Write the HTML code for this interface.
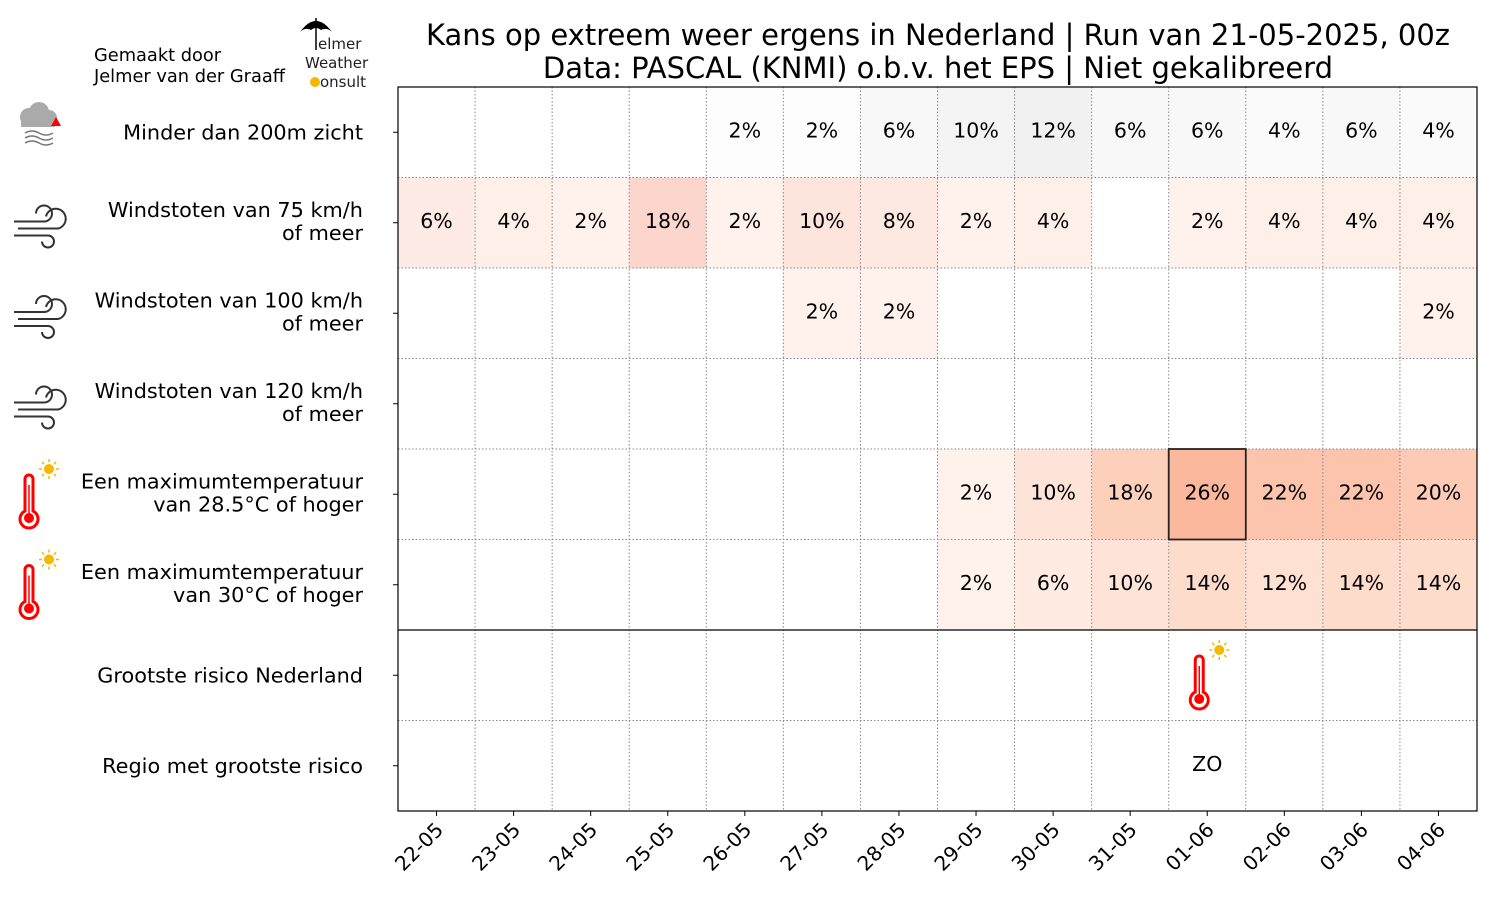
<!DOCTYPE html>
<html><head><meta charset="utf-8">
<style>
body{margin:0;background:#fff;font-family:"DejaVu Sans","Liberation Sans",sans-serif;}
svg text{font-family:"DejaVu Sans","Liberation Sans",sans-serif;}
</style></head>
<body>
<svg id="chart" width="1500" height="900" viewBox="0 0 1500 900" xmlns="http://www.w3.org/2000/svg">
<text x="938" y="45" font-size="29" text-anchor="middle">Kans op extreem weer ergens in Nederland | Run van 21-05-2025, 00z</text>
<text x="938" y="78" font-size="29" text-anchor="middle">Data: PASCAL (KNMI) o.b.v. het EPS | Niet gekalibreerd</text>
<text font-size="17.8"><tspan x="94" y="61">Gemaakt door</tspan><tspan x="94" y="82">Jelmer van der Graaff</tspan></text>
<g>
<path d="M300,32 Q316,10 332,32 Q327,27 321,30 Q316,26 311,30 Q305,27 300,32Z" fill="#000"/>
<line x1="316" y1="18" x2="316" y2="50" stroke="#000" stroke-width="1.5"/>
<text x="318" y="49" font-size="15" fill="#222">elmer</text>
<text x="305" y="68" font-size="15" fill="#222">Weather</text>
<circle cx="315" cy="82" r="5" fill="#f5b800"/>
<text x="320" y="87" font-size="15" fill="#222">onsult</text>
</g>
<g id="cells"></g>
<g id="grid"></g>
<g id="labels"></g>
</svg>
<script>
const dates=["22-05","23-05","24-05","25-05","26-05","27-05","28-05","29-05","30-05","31-05","01-06","02-06","03-06","04-06"];
const rowLabels=[["Minder dan 200m zicht"],["Windstoten van 75 km/h","of meer"],["Windstoten van 100 km/h","of meer"],["Windstoten van 120 km/h","of meer"],["Een maximumtemperatuur","van 28.5°C of hoger"],["Een maximumtemperatuur","van 30°C of hoger"],["Grootste risico Nederland"],["Regio met grootste risico"]];
const fog=[0,0,0,0,2,2,6,10,12,6,6,4,6,4];
const wind75=[6,4,2,18,2,10,8,2,4,0,2,4,4,4];
const wind100=[0,0,0,0,0,2,2,0,0,0,0,0,0,2];
const wind120=[0,0,0,0,0,0,0,0,0,0,0,0,0,0];
const temp285=[0,0,0,0,0,0,0,2,10,18,26,22,22,20];
const temp30=[0,0,0,0,0,0,0,2,6,10,14,12,14,14];
const riskIndex=10;
const riskRegion="ZO";
const series=[fog,wind75,wind100,wind120,temp285,temp30];
const X0=398,X1=1477,Y0=87,Y1=811,NR=8;
const cw=(X1-X0)/dates.length, rh=(Y1-Y0)/NR;
const xs=i=>X0+i*cw, ys=r=>Y0+r*rh;
const NS="http://www.w3.org/2000/svg";
function mk(t,a,p){const e=document.createElementNS(NS,t);for(const k in a)e.setAttribute(k,a[k]);p.appendChild(e);return e;}
function lerp(stops,v){v=Math.max(0,Math.min(1,v));const n=stops.length-1;const f=v*n;const i=Math.min(Math.floor(f),n-1);const t=f-i;const a=stops[i],b=stops[i+1];return `rgb(${a.map((c,k)=>Math.round(c+(b[k]-c)*t)).join(",")})`;}
const reds=[[255,245,240],[254,224,210],[252,187,161],[252,146,114],[251,106,74],[239,59,44],[203,24,29],[165,15,21],[103,0,13]];
const greys=[[255,255,255],[240,240,240],[217,217,217],[189,189,189],[150,150,150],[115,115,115],[82,82,82],[37,37,37],[0,0,0]];
const windReds=[[255,245,240],[253,225,218],[251,200,188],[248,160,140],[240,110,90],[220,60,50],[190,25,30],[150,10,20],[100,0,13]];
const cells=document.getElementById('cells'),grid=document.getElementById('grid'),labels=document.getElementById('labels');
series.forEach((arr,r)=>{arr.forEach((v,i)=>{
 if(v>0){const cm=r==0?greys:(r<=3?windReds:reds);
 const c=mk('rect',{x:xs(i),y:ys(r),width:cw,height:rh,fill:lerp(cm,v/100)},cells);
 
 
 const t=mk('text',{x:xs(i)+cw/2,y:ys(r)+rh/2+5,'font-size':20.5,'text-anchor':'middle'},cells);t.textContent=v+'%';
 
 }
});});
for(let i=1;i<dates.length;i++)mk('line',{x1:xs(i),y1:Y0,x2:xs(i),y2:Y1,stroke:'#888','stroke-width':1,'stroke-dasharray':'1.5,2'},grid);
for(let r=1;r<NR;r++)mk('line',{x1:X0,y1:ys(r),x2:X1,y2:ys(r),stroke:r==6?'#000':'#888','stroke-width':r==6?1.3:1,'stroke-dasharray':r==6?'':'1.5,2'},grid);
const fr=mk('rect',{x:X0,y:Y0,width:X1-X0,height:Y1-Y0,fill:'none',stroke:'#000','stroke-width':1.2},grid);


const hb=mk('rect',{x:xs(riskIndex),y:ys(4),width:cw,height:rh,fill:'none',stroke:'#222','stroke-width':1.8},grid);


function thermo(cx,cy,p){const g=mk('g',{},p);
 mk('path',{d:`M${cx-4},${cy+12} L${cx-4},${cy-20} A4,4 0 0 1 ${cx+4},${cy-20} L${cx+4},${cy+12} A9,9 0 1 1 ${cx-4},${cy+12}Z`,fill:'#fff',stroke:'#f00','stroke-width':3},g);
 mk('circle',{cx:cx,cy:cy+19,r:5,fill:'#f00'},g);
 mk('line',{x1:cx,y1:cy-14,x2:cx,y2:cy+15,stroke:'#f00','stroke-width':1.5},g);
 mk('circle',{cx:cx+20,cy:cy-30,r:5,fill:'#f5b800'},g);
 for(let k=0;k<8;k++){const a=k*Math.PI/4;mk('line',{x1:cx+20+7*Math.cos(a),y1:cy-30+7*Math.sin(a),x2:cx+20+10*Math.cos(a),y2:cy-30+10*Math.sin(a),stroke:'#f5b800','stroke-width':1.5},g);}
 return g;}
function wind(x,y,p){const g=mk('g',{fill:'none',stroke:'#333','stroke-width':2},p);
 mk('path',{d:`M${x},${y} h30 a8,8 0 1 0 -8,-8`},g);
 mk('path',{d:`M${x+4},${y+7} h40 a10,10 0 1 0 -12,-12`},g);
 mk('path',{d:`M${x},${y+14} h34 a6,6 0 1 1 -6,6`},g);
 return g;}
function fogIcon(x,y,p){const g=mk('g',{},p);
 mk('circle',{cx:x+12,cy:y+10,r:9,fill:'#aaa'},g);mk('circle',{cx:x+22,cy:y+5,r:10,fill:'#aaa'},g);mk('circle',{cx:x+32,cy:y+11,r:8,fill:'#aaa'},g);
 mk('rect',{x:x+4,y:y+10,width:34,height:10,fill:'#aaa'},g);
 mk('path',{d:`M${x+34},${y+19} l5,-9 l5,9z`,fill:'#f00'},g);
 for(let k=0;k<3;k++)mk('path',{d:`M${x+8},${y+26+k*5} q7,-4 14,0 t14,0`,fill:'none',stroke:'#777','stroke-width':1.5},g);
 return g;}
rowLabels.forEach((l,r)=>{const cy=ys(r)+rh/2;
 const t=mk('text',{'font-size':20.8,'text-anchor':'end'},labels);
 
 
 l.forEach((s,k)=>{const ts=mk('tspan',{x:363,y:l.length==1?cy+7:cy-6+k*23},t);ts.textContent=s;});
 mk('line',{x1:X0-5,y1:cy,x2:X0,y2:cy,stroke:'#000'},labels);
 let ic=null;
 if(r==0)ic=fogIcon(17,ys(r)+20,labels);
 else if(r<=3)ic=wind(14,ys(r)+44,labels);
 else if(r<=5)ic=thermo(29,ys(r)+50,labels);
 if(ic){
 }
});
const ri=thermo(xs(riskIndex)+cw/2-8,ys(6)+50,cells);


const rt=mk('text',{x:xs(riskIndex)+cw/2,y:ys(7)+rh/2+5,'font-size':20.5,'text-anchor':'middle'},cells);rt.textContent=riskRegion;


dates.forEach((d,i)=>{const cx=xs(i)+cw/2;
 mk('line',{x1:cx,y1:Y1,x2:cx,y2:Y1+5,stroke:'#000'},labels);
 const t=mk('text',{x:cx+8,y:Y1+20,'font-size':20,'text-anchor':'end',transform:`rotate(-45 ${cx+8} ${Y1+20})`},labels);
 t.textContent=d;
 
 
});
</script>
</body></html>
